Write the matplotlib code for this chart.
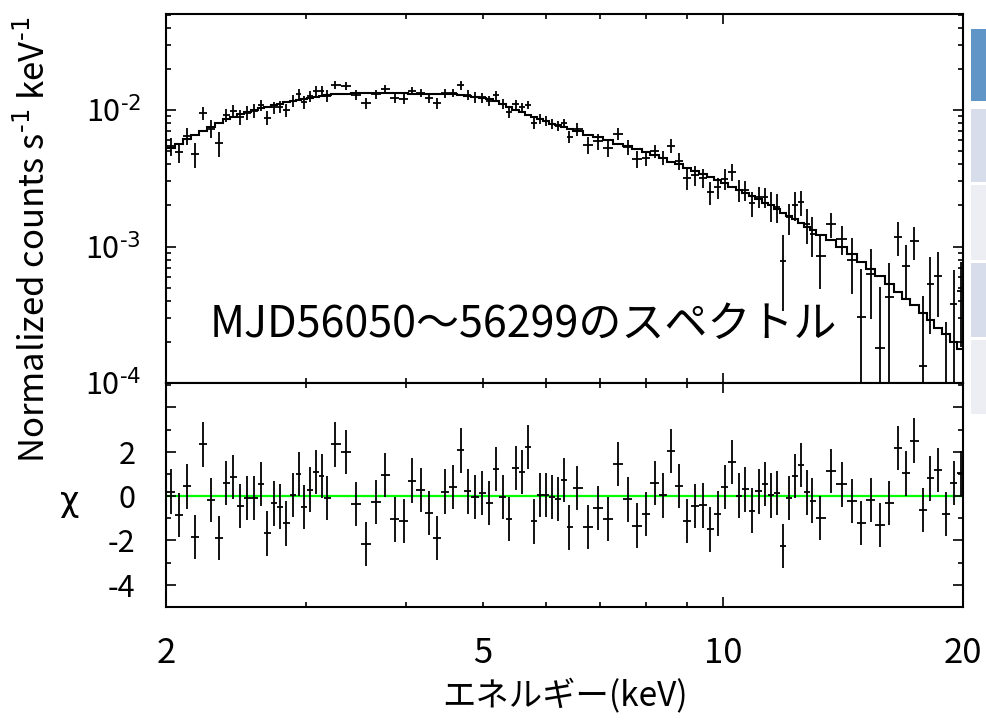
import numpy as np
import matplotlib
matplotlib.use("Agg")
import matplotlib.pyplot as plt
from matplotlib.patches import Rectangle
from matplotlib.ticker import FixedLocator, FuncFormatter, NullFormatter

plt.rcParams['font.family'] = ['Noto Sans CJK JP', 'DejaVu Sans']
plt.rcParams['axes.unicode_minus'] = False

# bin centres (keV)
energy = [2.029, 2.078, 2.127, 2.177, 2.228, 2.278, 2.331, 2.379, 2.429, 2.479,
          2.530, 2.581, 2.629, 2.680, 2.732, 2.780, 2.831, 2.884, 2.934, 2.982,
          3.035, 3.082, 3.136, 3.185, 3.262, 3.361, 3.463, 3.564, 3.669, 3.769,
          3.872, 3.974, 4.071, 4.174, 4.272, 4.372, 4.474, 4.578, 4.685, 4.781,
          4.883, 4.983, 5.089, 5.188, 5.290, 5.392, 5.492, 5.593, 5.696, 5.795,
          5.897, 6.000, 6.105, 6.206, 6.310, 6.413, 6.563, 6.769, 6.973, 7.177,
          7.388, 7.591, 7.798, 8.004, 8.207, 8.406, 8.610, 8.812, 9.018, 9.228,
          9.428, 9.637, 9.845, 10.047, 10.261, 10.471, 10.663, 10.871, 11.084, 11.287,
          11.485, 11.696, 11.900, 12.108, 12.310, 12.525, 12.733, 12.941, 13.243, 13.659,
          14.089, 14.502, 14.910, 15.320, 15.737, 16.151, 16.577, 16.979, 17.376, 17.803,
          18.198, 18.623, 19.042, 19.470, 19.885]

# folded model (counts s^-1 keV^-1)
model = [5.27e-3, 5.63e-3, 6.08e-3, 6.56e-3, 7.02e-3, 7.51e-3, 8.03e-3, 8.52e-3, 8.96e-3, 9.35e-3,
         9.67e-3, 1.000e-2, 1.026e-2, 1.052e-2, 1.079e-2, 1.107e-2, 1.135e-2, 1.164e-2, 1.184e-2, 1.204e-2,
         1.224e-2, 1.245e-2, 1.266e-2, 1.281e-2, 1.299e-2, 1.316e-2, 1.327e-2, 1.332e-2, 1.337e-2, 1.337e-2,
         1.332e-2, 1.325e-2, 1.318e-2, 1.310e-2, 1.305e-2, 1.302e-2, 1.302e-2, 1.299e-2, 1.288e-2, 1.266e-2,
         1.245e-2, 1.224e-2, 1.194e-2, 1.164e-2, 1.107e-2, 1.052e-2, 1.000e-2, 9.59e-3, 9.19e-3, 8.89e-3,
         8.52e-3, 8.24e-3, 7.96e-3, 7.76e-3, 7.51e-3, 7.26e-3, 6.96e-3, 6.61e-3, 6.29e-3, 5.98e-3,
         5.68e-3, 5.45e-3, 5.18e-3, 4.92e-3, 4.68e-3, 4.45e-3, 4.19e-3, 3.99e-3, 3.79e-3, 3.57e-3,
         3.40e-3, 3.23e-3, 3.07e-3, 2.92e-3, 2.75e-3, 2.59e-3, 2.46e-3, 2.34e-3, 2.23e-3, 2.10e-3,
         2.00e-3, 1.88e-3, 1.77e-3, 1.67e-3, 1.59e-3, 1.49e-3, 1.40e-3, 1.32e-3, 1.22e-3, 1.12e-3,
         9.9e-4, 8.8e-4, 7.7e-4, 6.84e-4, 6.03e-4, 5.31e-4, 4.68e-4, 4.16e-4, 3.70e-4, 3.26e-4,
         2.89e-4, 2.55e-4, 2.27e-4, 2.00e-4, 1.77e-4]

# residuals (data - model) / error
chi = [0.20, -0.86, 0.44, -1.83, 2.33, -0.17, -1.90, 0.60, 0.86, -0.45,
       -0.08, -0.08, 0.55, -1.68, -0.33, -0.47, -1.23, 0.06, 1.00, -0.50,
       0.29, 1.08, 0.90, -0.08, 2.33, 1.98, -0.35, -2.15, -0.26, 0.95,
       -1.05, -1.12, 0.70, 0.27, -0.76, -1.90, 0.20, 0.41, 2.06, 0.21,
       -0.05, 0.14, -0.30, 1.23, -0.03, -1.02, 1.27, 1.09, 2.20, -1.14,
       0.06, 0.05, -0.03, -0.14, 0.73, -1.41, 0.36, -1.38, -0.53, -1.03,
       1.44, -0.15, -1.33, -0.80, 0.59, 0.03, 2.02, 0.45, -1.11, -0.45,
       -0.42, -1.50, -0.79, 0.42, 1.55, 0.02, 0.30, -0.65, 0.21, 0.55,
       0.03, 0.14, -2.24, -0.09, 0.91, 1.41, 0.17, -0.20, -1.00, 1.12,
       0.53, -0.23, -1.21, -0.18, -1.30, -0.32, 2.17, 1.02, 2.50, -0.64,
       0.80, 1.17, -0.82, 0.59, 1.02]

# 1-sigma error relative to the model
err_frac = [0.15, 0.15, 0.15, 0.15, 0.15, 0.15, 0.15, 0.12, 0.12, 0.12,
            0.12, 0.12, 0.10, 0.10, 0.10, 0.10, 0.10, 0.10, 0.10, 0.10,
            0.10, 0.10, 0.10, 0.10, 0.075, 0.075, 0.075, 0.075, 0.075, 0.075,
            0.075, 0.075, 0.075, 0.075, 0.075, 0.075, 0.075, 0.075, 0.085, 0.085,
            0.085, 0.085, 0.085, 0.085, 0.085, 0.085, 0.085, 0.085, 0.085, 0.085,
            0.085, 0.085, 0.085, 0.085, 0.085, 0.085, 0.12, 0.12, 0.12, 0.12,
            0.12, 0.12, 0.12, 0.12, 0.12, 0.12, 0.15, 0.15, 0.15, 0.15,
            0.15, 0.15, 0.15, 0.18, 0.18, 0.18, 0.18, 0.18, 0.18, 0.18,
            0.25, 0.25, 0.25, 0.25, 0.30, 0.30, 0.30, 0.30, 0.30, 0.27,
            0.28, 0.40, 0.50, 0.48, 0.54, 0.62, 0.70, 0.72, 0.78, 0.92,
            1.05, 1.18, 1.25, 1.50, 1.65]

energy = np.array(energy)
model = np.array(model)
chi = np.array(chi)
sigma = model * np.array(err_frac)
data = model + chi * sigma

# contiguous bins: edges halfway (in log) between centres
inner = np.sqrt(energy[:-1] * energy[1:])
edges = np.concatenate([[energy[0] ** 2 / inner[0]], inner, [energy[-1] ** 2 / inner[-1]]])
xerr = [energy - edges[:-1], edges[1:] - energy]

fig = plt.figure(figsize=(9.86, 7.25), dpi=100)
ax1 = fig.add_axes([0.1684, 0.4717, 0.8083, 0.509])
ax2 = fig.add_axes([0.1684, 0.1628, 0.8083, 0.3089])

# spectrum
ax1.set_xscale("log")
ax1.set_yscale("log")
ax1.errorbar(energy, data, yerr=sigma, xerr=xerr, fmt="none", ecolor="black", elinewidth=1.3)
ax1.stairs(model, edges, baseline=None, color="black", linewidth=1.5)
ax1.set_xlim(2, 20)
ax1.set_ylim(1e-4, 0.0505)

# residuals
ax2.set_xscale("log")
ax2.axhline(0, color="#00ff00", linewidth=1.6, zorder=1)
ax2.errorbar(energy, chi, yerr=1.0, xerr=xerr, fmt="none", ecolor="black", elinewidth=1.3, zorder=2)
ax2.set_xlim(2, 20)
ax2.set_ylim(-5, 5.1)

minor_x = [2, 3, 4, 5, 6, 7, 8, 9, 20]
for ax in (ax1, ax2):
    ax.xaxis.set_major_locator(FixedLocator([10]))
    ax.xaxis.set_minor_locator(FixedLocator(minor_x))
    ax.tick_params(which="both", direction="in", top=True, right=True, color="black", width=1.2)
    ax.tick_params(which="major", length=7)
    ax.tick_params(which="minor", length=3.5)
    for s in ax.spines.values():
        s.set_linewidth(1.5)

ax1.xaxis.set_major_formatter(NullFormatter())
ax1.xaxis.set_minor_formatter(NullFormatter())
ax1.yaxis.set_major_locator(FixedLocator([1e-4, 1e-3, 1e-2]))
ax1.yaxis.set_minor_locator(FixedLocator([m * d for d in (1e-4, 1e-3, 1e-2) for m in range(2, 10)]))
ax1.yaxis.set_major_formatter(FuncFormatter(
    lambda v, p: "10$^{\\text{%d}}$" % int(round(np.log10(v)))))
ax1.yaxis.set_minor_formatter(NullFormatter())
ax1.tick_params(axis="y", which="major", labelsize=22, pad=18)

ax2.xaxis.set_major_formatter(FuncFormatter(lambda v, p: "%d" % round(v)))
ax2.xaxis.set_minor_formatter(FuncFormatter(
    lambda v, p: "%d" % round(v) if round(v) in (2, 5, 20) else ""))
ax2.tick_params(axis="x", which="both", labelsize=25, pad=21)
ax2.yaxis.set_major_locator(FixedLocator([-4, -2, 0, 2, 4]))
ax2.yaxis.set_minor_locator(FixedLocator([-5, -3, -1, 1, 3, 5]))
ax2.yaxis.set_major_formatter(FuncFormatter(lambda v, p: "" if v > 3 else "%d" % v))
ax2.tick_params(axis="y", which="major", labelsize=22, pad=22)

# labels and annotation
fig.text(35 / 986, 1 - 240 / 725, "Normalized counts s$^{\\text{-1}}$ keV$^{\\text{-1}}$",
         rotation=90, ha="center", va="center", fontsize=25)
fig.text(70 / 986, 1 - 502 / 725, "χ", ha="center", va="center", fontsize=24,
         family=["DejaVu Sans"])
fig.text(565 / 986, 1 - 697 / 725, "エネルギー(keV)", ha="center", va="center", fontsize=24)
fig.text(210 / 986, 1 - 325 / 725, "MJD56050〜56299のスペクトル", ha="left", va="center", fontsize=31)

# slide thumbnails peeking in at the right edge
thumbs = [(29, 101, "#6095c8"), (109, 182, "#d8ddeb"), (185, 260, "#eceef4"),
          (263, 337, "#d8ddeb"), (340, 414, "#eceef4")]
for top, bottom, col in thumbs:
    fig.add_artist(Rectangle((971 / 986, 1 - bottom / 725), 15 / 986, (bottom - top) / 725,
                             transform=fig.transFigure, color=col, linewidth=0))

fig.savefig("out.png", dpi=100)
